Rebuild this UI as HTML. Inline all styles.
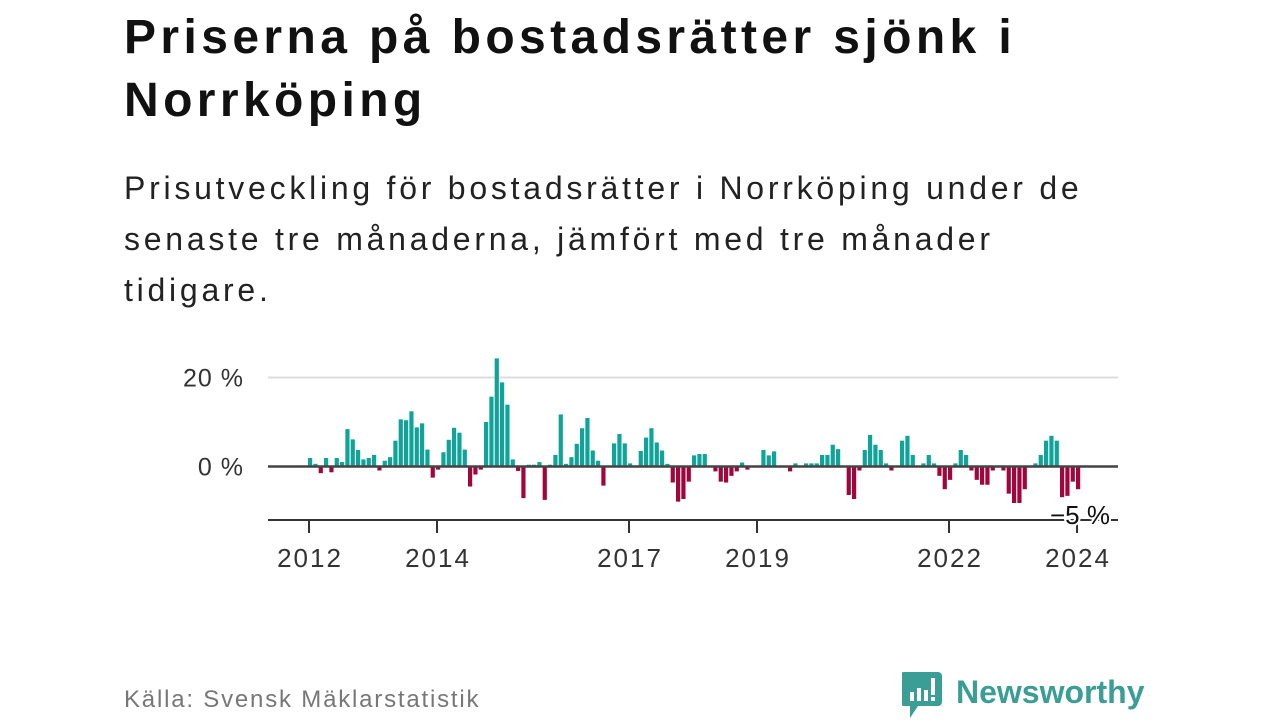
<!DOCTYPE html>
<html><head><meta charset="utf-8">
<style>
body{margin:0;width:1280px;height:720px;background:#fff;overflow:hidden;font-family:"Liberation Sans",sans-serif;color:#111}
.t{position:absolute;left:124px;top:6px;font-size:48px;font-weight:bold;line-height:63px;margin:0;width:1150px;letter-spacing:4.4px;white-space:nowrap}
.s{position:absolute;left:124px;top:163px;font-size:32px;line-height:51px;width:1150px;color:#222;letter-spacing:3.75px;white-space:nowrap}
.src{position:absolute;left:124px;top:686px;font-size:24px;color:#777;letter-spacing:1.8px}
.logo{position:absolute;left:902px;top:670px}
</style></head><body>
<h1 class="t">Priserna på bostadsrätter sjönk i<br>Norrköping</h1>
<div class="s">Prisutveckling för bostadsrätter i Norrköping under de<br>senaste tre månaderna, jämfört med tre månader<br>tidigare.</div>
<svg id="chart" width="1280" height="720" style="position:absolute;left:0;top:0"></svg>
<div class="src">Källa: Svensk Mäklarstatistik</div>
<div class="logo">
<svg width="260" height="50">
<path d="M2 2 h34 a4 4 0 0 1 4 4 v26 a4 4 0 0 1 -4 4 h-20 l-8 12 v-12 h-6 a4 4 0 0 1 -4 -4 v-26 a4 4 0 0 1 4 -4z" fill="#3a9e96"/>
<rect x="8" y="22" width="4" height="9" fill="#fff"/><rect x="15" y="18" width="4" height="13" fill="#fff"/><rect x="22" y="20" width="4" height="11" fill="#fff"/><rect x="29" y="8" width="4" height="17" fill="#fff"/><rect x="29" y="27" width="4" height="4" fill="#fff"/>
<text x="54" y="33" font-family="Liberation Sans, sans-serif" font-size="32" font-weight="bold" fill="#3a9e96">Newsworthy</text>
</svg></div>
<script>
const values=[1.9,0.6,-1.5,1.9,-1.3,1.9,1.0,8.4,6.1,3.7,1.6,1.9,2.6,-0.9,1.3,2.1,5.8,10.6,10.4,12.4,8.8,9.7,3.8,-2.5,-0.7,3.2,6.0,8.7,7.6,3.8,-4.5,-1.8,-0.7,10.0,15.7,24.3,18.9,13.9,1.6,-1.0,-7.1,0.4,0.4,1.0,-7.5,0.4,2.6,11.7,0.6,2.1,
5.1,8.6,10.9,3.6,1.3,-4.3,0,5.2,7.3,5.2,0.7,0,3.5,6.5,8.6,5.4,3.6,0.6,-3.6,-7.9,-7.3,-3.4,2.5,2.8,2.8,0,-1.1,-3.4,-3.6,-2.1,-1.1,0.9,-0.7,0,0,3.7,2.5,3.4,0,0,-1.1,0.7,0,0.7,0.7,0.7,2.6,2.6,4.9,3.9,0,
-6.4,-7.3,-0.9,3.7,7.1,4.9,3.7,0.7,-0.9,0,5.8,6.9,2.6,0,0.7,2.6,0.7,-2.1,-5.1,-3.0,0.7,3.7,2.6,-0.9,-3.0,-4.1,-4.1,-0.9,0,-0.9,-6.1,-8.2,-8.2,-5.1,0,0.7,2.6,5.8,6.9,5.8,-6.9,-6.6,-3.4,-5.1];
const yTicks=[0,20];
const yTickLabels=["0 %","20 %"];
const xTicks=[2012,2014,2017,2019,2022,2024];
const startYear=2012;
const lastLabel="−5 %";
const svg=document.getElementById('chart');
const NS='http://www.w3.org/2000/svg';
const x0=309,pxYear=64,zeroY=466.5,pxPct=4.45;
const xs=i=>x0+(i/12)*pxYear;
const xYear=y=>x0+(y-startYear)*pxYear;
const ys=v=>zeroY-v*pxPct;
function mk(t,a){const e=document.createElementNS(NS,t);for(const k in a)e.setAttribute(k,a[k]);svg.appendChild(e);return e;}
yTicks.forEach((v,i)=>{
 if(v!==0){const g=mk('line',{x1:268,x2:1118,y1:ys(v),y2:ys(v),stroke:'#ddd','stroke-width':2});
 
 }
 const t=mk('text',{x:244,y:ys(v)+9,'text-anchor':'end','font-size':25,fill:'#333','letter-spacing':1});
 
 
 t.textContent=yTickLabels[i];
});
values.forEach((v,i)=>{
 const y=Math.min(ys(v),zeroY),h=Math.abs(v)*pxPct;
 const r=mk('rect',{x:xs(i)-1,y:y,width:4.2,height:Math.max(h,0),fill:v>=0?'#0fa39a':'#a0063c'});
 
 
});
const z=mk('line',{x1:268,x2:1118,y1:zeroY,y2:zeroY,stroke:'#444','stroke-width':2.5});


const ax=mk('line',{x1:268,x2:1118,y1:520,y2:520,stroke:'#333','stroke-width':2});


xTicks.forEach(yr=>{
 const tk=mk('line',{x1:xYear(yr),x2:xYear(yr),y1:520,y2:533,stroke:'#333','stroke-width':2});
 
 
 const t=mk('text',{x:xYear(yr)+1,y:567,'text-anchor':'middle','font-size':26,fill:'#333','letter-spacing':2});
 
 
 t.textContent=yr;
});
const lab=mk('text',{x:xs(values.length-1)+3,y:524,'text-anchor':'middle','font-size':26,fill:'#111',stroke:'#fff','stroke-width':4,'paint-order':'stroke'});


lab.textContent=lastLabel;
</script>
</body></html>
